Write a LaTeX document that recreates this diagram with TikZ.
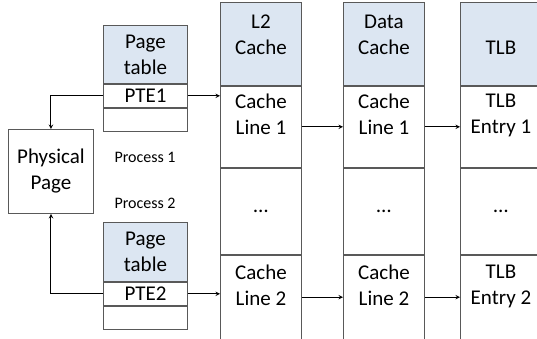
\documentclass[tikz,border=0pt]{standalone}
\usepackage{fontspec}
\setmainfont{Carlito}
\usepackage{tikz}
\usetikzlibrary{arrows,calc,positioning}
\definecolor{hdrblue}{HTML}{DCE6F2}
\tikzset{
  box/.style={draw=black!65, line width=0.9pt, inner sep=0pt, align=center},
  hdr/.style={box, fill=hdrblue},
  cell/.style={box, fill=white},
  txt/.style={inner sep=0pt, align=center},
  arr/.style={->, >=stealth, line width=1pt},
}
\begin{document}
\begin{tikzpicture}[x=1pt,y=-1pt,font=\fontsize{21}{26}\selectfont]
\useasboundingbox (0,0) rectangle (537,339);
\clip (0,0) rectangle (537,339);
% caches and TLB
\foreach \x/\c/\h/\a/\b in {220/l2/{L2\\Cache}/{Cache\\Line 1}/{Cache\\Line 2},
  343/dc/{Data\\Cache}/{Cache\\Line 1}/{Cache\\Line 2},
  460/tlb/{TLB}/{TLB\\Entry 1}/{TLB\\Entry 2}} {
  \node[hdr, minimum width=81pt, minimum height=83pt, anchor=north west] (\c h) at (\x,2) {};
  \node[cell, minimum width=81pt, minimum height=81pt, anchor=north] (\c a) at (\c h.south) {};
  \node[cell, minimum width=81pt, minimum height=86pt, anchor=north] (\c d) at (\c a.south) {\dots};
  \node[cell, minimum width=81pt, minimum height=84pt, anchor=north] (\c b) at (\c d.south) {};
  \node[txt, anchor=south] (\c ht) at ($(\c h.south)+(0,-31)$) {\h};
  \node[txt, below=8pt] (\c at) at (\c a.north) {\a};
  \node[txt, below=10pt] (\c bt) at (\c b.north) {\b};
}
% page tables
\node[hdr, minimum width=84pt, minimum height=58pt, anchor=north west] (pt1) at (103,25) {Page\\table};
\node[cell, minimum width=84pt, minimum height=23pt, anchor=north] (pte1) at (pt1.south) {PTE1};
\node[cell, minimum width=84pt, minimum height=23pt, anchor=north] (pt1e) at (pte1.south) {};
\node[hdr, minimum width=84pt, minimum height=59pt, anchor=north west] (pt2) at (103,222) {Page\\table};
\node[cell, minimum width=84pt, minimum height=23pt, anchor=north] (pte2) at (pt2.south) {PTE2};
\node[cell, minimum width=84pt, minimum height=23pt, anchor=north] (pt2e) at (pte2.south) {};
\node[txt, font=\fontsize{16}{19}\selectfont] (proc1) at (145,157) {Process 1};
\node[txt, font=\fontsize{16}{19}\selectfont] (proc2) at (145,203) {Process 2};
\node[cell, minimum width=85pt, minimum height=84pt, anchor=north west] (pp) at (8,129) {Physical\\Page};
% connectors
\draw[arr] (pte1.west) -| (pp.north);
\draw[arr] (pte2.west) -| (pp.south);
\draw[arr] (pte1.east) -- (pte1.east -| l2a.west);
\draw[arr] (pte2.east) -- (pte2.east -| l2b.west);
\draw[arr] (l2a.east) -- (dca.west);
\draw[arr] (dca.east) -- (tlba.west);
\draw[arr] (l2b.east) -- (dcb.west);
\draw[arr] (dcb.east) -- (tlbb.west);
\end{tikzpicture}
\end{document}
